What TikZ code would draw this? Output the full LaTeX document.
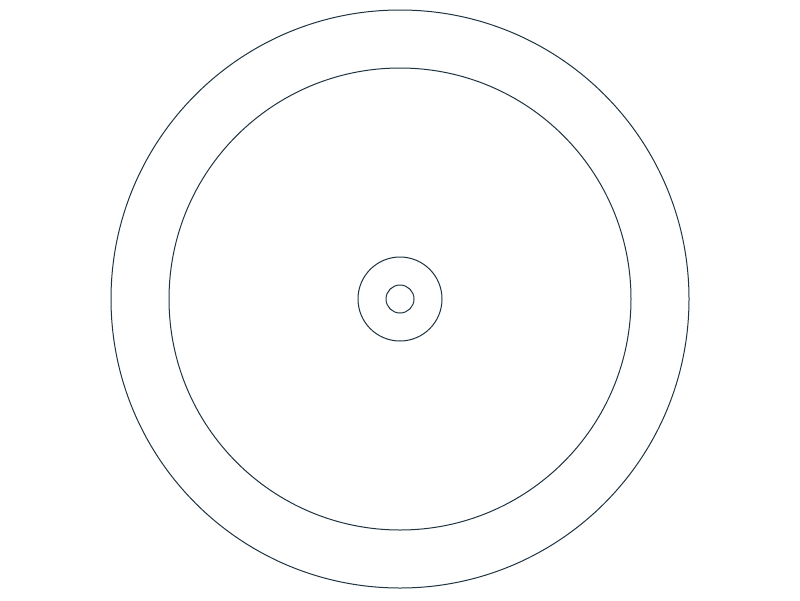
\documentclass[tikz,border=0pt]{standalone}
\definecolor{ring}{HTML}{1F3340}
\begin{document}
\begin{tikzpicture}[x=1pt,y=-1pt,ringstyle/.style={draw=ring,line width=1pt}]
\useasboundingbox (0,0) rectangle (800,600);
\fill[white] (0,0) rectangle (800,600);
\coordinate (c) at (400,299);
\draw[ringstyle] (c) circle[radius=289];
\draw[ringstyle] (c) circle[radius=231];
\draw[ringstyle] (c) circle[radius=42];
\draw[ringstyle] (c) circle[radius=14];
\end{tikzpicture}
\end{document}
